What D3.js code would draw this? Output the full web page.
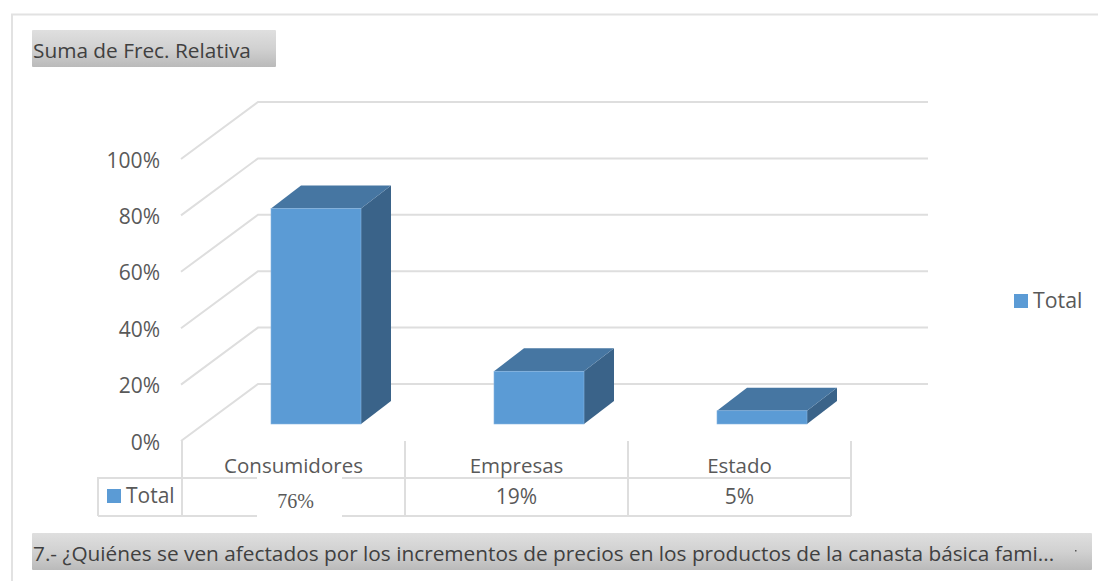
<!DOCTYPE html>
<html><head><meta charset="utf-8">
<script src="https://cdn.jsdelivr.net/npm/d3@7"></script>
<style>html,body{margin:0;padding:0;background:#fff}svg{display:block}text{font-family:"Open Sans",sans-serif}</style>
</head><body><div id="c"></div>
<script>
const categories=["Consumidores","Empresas","Estado"];
const values=[0.764,0.187,0.047];
const yTicks=[0,0.2,0.4,0.6,0.8,1];
const seriesName="Total";
const fieldButton="Suma de Frec. Relativa";
const axisButton="7.- ¿Quiénes se ven afectados por los incrementos de precios en los productos de la canasta básica fami...";

const W=1098,H=581;
const svg=d3.select("#c").append("svg").attr("width",W).attr("height",H);
const defs=svg.append("defs");
const g=defs.append("linearGradient").attr("id","btn").attr("x1",0).attr("x2",0).attr("y1",0).attr("y2",1);
g.append("stop").attr("offset","0").attr("stop-color","#dfdfdf");
g.append("stop").attr("offset","0.5").attr("stop-color","#d1d1d1");
g.append("stop").attr("offset","1").attr("stop-color","#bababa");

const grey="#595959",line="#dedede";
const pct=d3.format(".0%");
const x=d3.scaleBand().domain(categories).range([182,851]);
const y=d3.scaleLinear().domain([0,1]).range([441,159]);
const depth={dx:77,dy:-57};
const barDepth={dx:30,dy:-23};
const barOff={dx:22.5,dy:-17};
const barW=90;

// frame
svg.append("path").attr("d",`M12,581V14.5H${W}`).attr("fill","none").attr("stroke","#e2e2e2").attr("stroke-width",2);

// field button
svg.append("rect").attr("x",32).attr("y",30).attr("width",244).attr("height",37).attr("rx",1).attr("fill","url(#btn)");
svg.append("text").attr("x",33).attr("y",58).attr("font-size",20.8).attr("fill","#404040").text(fieldButton);

// gridlines in perspective
svg.append("g").selectAll("path").data(yTicks).join("path")
 .attr("d",d=>`M${x.range()[0]-1},${y(d)}L${x.range()[0]-1+depth.dx},${y(d)+depth.dy}H928`)
 .attr("fill","none").attr("stroke",line).attr("stroke-width",2);

// y axis labels
svg.append("g").selectAll("text").data(yTicks).join("text")
 .attr("x",160).attr("y",d=>y(d)+8.5).attr("text-anchor","end").attr("font-size",21).attr("fill",grey)
 .text(pct);

// bars
const bars=svg.append("g").selectAll("g").data(categories).join("g");
const bx=(c)=>x(c)+x.bandwidth()/2-barW/2+barOff.dx;
const base=y(0)+barOff.dy;
const top_=(i)=>base-(y(0)-y(values[i]));
bars.append("path").attr("fill","#3a6389") // side
 .attr("d",(c,i)=>{const r=bx(c)+barW;return `M${r},${base}V${top_(i)}l${barDepth.dx},${barDepth.dy}V${base+barDepth.dy}Z`});
bars.append("path").attr("fill","#4676a2") // top
 .attr("d",(c,i)=>{const l=bx(c);return `M${l},${top_(i)}h${barW}l${barDepth.dx},${barDepth.dy}h${-barW}Z`});
bars.append("rect").attr("fill","#5b9bd5").attr("stroke","#85b4e0").attr("stroke-width",0.6)
 .attr("x",c=>bx(c)).attr("y",(c,i)=>top_(i)).attr("width",barW).attr("height",(c,i)=>base-top_(i));

// data table
const t0=441,t1=478,t2=516,tl=98;
const tg=svg.append("g").attr("stroke",line).attr("stroke-width",2).attr("fill","none");
const edges=[...categories.map(c=>x(c)),x.range()[1]];
tg.selectAll("line.v").data(edges).join("line").attr("x1",d=>d).attr("x2",d=>d).attr("y1",t0).attr("y2",t2);
tg.append("path").attr("d",`M${tl},${t2}V${t1}H${x.range()[1]}M${tl},${t2}H${x.range()[1]}`);
svg.append("rect").attr("x",257).attr("y",477).attr("width",85).attr("height",42).attr("fill","#fff");
svg.append("g").selectAll("text").data(categories).join("text")
 .attr("x",c=>x(c)+x.bandwidth()/2).attr("y",472.5).attr("text-anchor","middle").attr("font-size",20.5).attr("fill",grey).text(c=>c);
svg.append("g").selectAll("text").data(values).join("text")
 .attr("x",(d,i)=>x(categories[i])+x.bandwidth()/2+(i==0?2:0)).attr("y",(d,i)=>i==0?508:504)
 .attr("text-anchor","middle").attr("font-size",(d,i)=>i==0?20:21).attr("fill",grey)
 .style("font-family",(d,i)=>i==0?'"Liberation Serif",serif':null).text(d=>pct(d));
svg.append("rect").attr("x",107).attr("y",489).attr("width",14).attr("height",14).attr("fill","#5b9bd5");
svg.append("text").attr("x",126).attr("y",503).attr("font-size",21).attr("fill",grey).text(seriesName);

// legend
svg.append("rect").attr("x",1014).attr("y",294).attr("width",14).attr("height",14).attr("fill","#5b9bd5");
svg.append("text").attr("x",1033).attr("y",308).attr("font-size",21.3).attr("fill",grey).text(seriesName);

// bottom button
svg.append("rect").attr("x",32).attr("y",533).attr("width",1060).attr("height",37).attr("rx",1).attr("fill","url(#btn)");
svg.append("text").attr("x",33).attr("y",560.5).attr("font-size",20.8).attr("fill","#404040").text(axisButton);
svg.append("rect").attr("x",1075).attr("y",550).attr("width",1.5).attr("height",1.5).attr("fill","#555");
</script></body></html>
